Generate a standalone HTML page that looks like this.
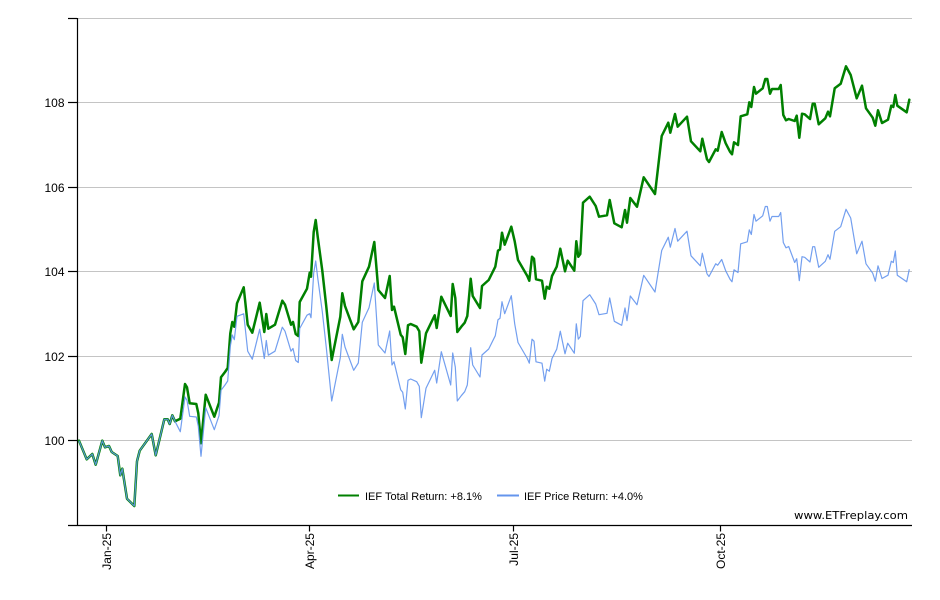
<!DOCTYPE html>
<html>
<head>
<meta charset="utf-8">
<style>
html,body{margin:0;padding:0;background:#fff;}
svg{display:block;}
text{font-family:"Liberation Sans",Arial,sans-serif;fill:#000;}
</style>
</head>
<body>
<svg width="940" height="600" viewBox="0 0 940 600" xmlns="http://www.w3.org/2000/svg">
<rect x="0" y="0" width="940" height="600" fill="#fff"/>
<!-- gridlines -->
<g stroke="#c4c4c4" stroke-width="1">
<line x1="77" y1="18.5" x2="912" y2="18.5"/>
<line x1="77" y1="102.5" x2="912" y2="102.5"/>
<line x1="77" y1="187.5" x2="912" y2="187.5"/>
<line x1="77" y1="271.5" x2="912" y2="271.5"/>
<line x1="77" y1="356.5" x2="912" y2="356.5"/>
<line x1="77" y1="440.5" x2="912" y2="440.5"/>
</g>
<!-- axes -->
<g stroke="#000" stroke-width="1.2">
<line x1="77.5" y1="18" x2="77.5" y2="525"/>
<line x1="68" y1="525.5" x2="912" y2="525.5"/>
<line x1="68" y1="18.5" x2="77" y2="18.5"/>
<line x1="68" y1="102.5" x2="77" y2="102.5"/>
<line x1="68" y1="187.5" x2="77" y2="187.5"/>
<line x1="68" y1="271.5" x2="77" y2="271.5"/>
<line x1="68" y1="356.5" x2="77" y2="356.5"/>
<line x1="68" y1="440.5" x2="77" y2="440.5"/>
<line x1="106.5" y1="525" x2="106.5" y2="531.5"/>
<line x1="309.5" y1="525" x2="309.5" y2="531.5"/>
<line x1="513.5" y1="525" x2="513.5" y2="531.5"/>
<line x1="720.5" y1="525" x2="720.5" y2="531.5"/>
</g>
<!-- y labels -->
<g font-size="12" text-anchor="end">
<text x="64.5" y="106.8">108</text>
<text x="64.5" y="191.8">106</text>
<text x="64.5" y="275.8">104</text>
<text x="64.5" y="360.8">102</text>
<text x="64.5" y="444.8">100</text>
</g>
<!-- x labels -->
<g font-size="12" text-anchor="end">
<text transform="translate(111,533) rotate(-90)">Jan-25</text>
<text transform="translate(314,533) rotate(-90)">Apr-25</text>
<text transform="translate(518,533) rotate(-90)">Jul-25</text>
<text transform="translate(725,533) rotate(-90)">Oct-25</text>
</g>
<!-- green total return -->
<polyline fill="none" stroke="#008000" stroke-width="2.5" stroke-linejoin="round" stroke-linecap="round" points="
79,440.7 86.7,459.3 92.3,454 95.7,464.7 102.3,440.7 105,447.3 109,446 111.7,452 117.7,456 120.3,475.3 122.3,468.7 127,498.7 134.3,506 137,461.3 139.7,450.7 151.7,434 155.7,455.3 164.3,419.3 167.7,419.3 169.7,424 172.3,415.3 175,421.3
180.3,418.7 185,384 187,387.3 189.7,403.3 196.3,404 198.3,413.3 201,443.3 205.7,394.7 214.3,416.7 219,402.7 221,377.3 225,372 227.7,368 230.3,333.3 232.3,322 234.3,326.7 237,303.3
243.7,287.3 247.7,324.7 252.3,332.7 259.7,302.7 264.3,332 266.3,314 268.3,328.7 275,324.7 282.3,300.7 285,304.7 291,324.7 293,322 295.7,334 298.3,336 299.7,302 307,288.7
309.7,272.7 311,276.7 313.7,232 315.7,220 317.7,236.7 322.3,270.7 326.3,306.7 331.7,360 340.3,316.7 342.3,293.3 345,306 353.7,329.3 358.3,322 362.3,281.3 369,266.7 374.3,242
378.3,290 385,298 389.7,276 392,310 394,306.7 400.7,334.7 402.7,337.3 405.3,354 408,325.3 410.7,324 416.7,326.7 419.3,331.3 421.3,362.7 426,333.3 434.7,315.3 436.7,328 441.3,296.7
450.7,316 452.7,284 455.3,298 457.3,332 461.3,326.7 464.7,322.7 467.3,316 470.7,278.7 472.7,296 480,308 482,286 488.7,280 495.3,266.7 498,250.7 500,249.3 502,232.7 504.7,244.7 511.3,226.7
514.7,241.3 518,260 527.3,276 529.3,280.7 532,256.7 534,258.7 536,279.3 542,280.7 544.7,298.7 546.7,286.7 549.3,288.7 552,276 556.7,266.7 560.3,248.7 565,271.3 567.7,260.7 574.3,270.7 576.3,241.3 578.3,256.7 580.3,254
583,202.7 589.7,196.7 595.7,206 599,216.7 607,215.3 609.7,200 614.3,223.3 621.7,227.3 625,210 627,222.7 630.3,198 637,206.7 643.7,177.3 655,194
661.7,136 668.3,122.7 670.3,132.7 675,114 677.7,126.7 687,116.7 691,141.3 700.3,151.3 702.3,138.7 707,159.3 709,162 715.7,149.3 717.7,150.7
721.7,132 725.7,143.3 730,151.7 732,154.3 734,142.3 738,145 740.7,116.3 747.3,114.3 749.3,102.3 751.3,107 754,87 756,93.7 762.7,88.3 765.3,79 767.3,79 770,93.7 772,89 778.7,89 780.7,85 783.3,115 786,120.3 788.7,119
794.7,121 796.7,115.7 799.3,137.7 802,113.7 804.7,114.3 810,119 812.7,103.7 814.7,103.7 818.7,124.3 825.3,118.3 828,111.7 830,116.3 834.7,88.3 840.7,83.7 846,66.3 850.7,75
856.7,98.3 862,85.7 866,108.3 872.7,117.7 875.3,125.7 878,110.3 882,123 888,119.7 891.3,105.7 893.3,107 895.3,95
897.3,105.7 906.7,112.3 909.3,99.7"/>
<!-- blue price return -->
<polyline fill="none" stroke="#6495ED" stroke-width="1.2" stroke-opacity="0.9" stroke-linejoin="round" points="
79,440.7 86.7,459.3 92.3,454 95.7,464.7 102.3,440.7 105,447.3 109,446 111.7,452 117.7,456 120.3,475.3 122.3,468.7 127,498.7 134.3,506 137,461.3 139.7,450.7 151.7,434 155.7,455.3 164.3,419.3 167.7,419.3 169.7,424 172.3,415.3 175,421.3
180.3,431.7 185,397 187,400.3 189.7,416.3 196.3,417 198.3,426.3 201,456.3 205.7,407.7 214.3,429.7 219,415.7 221,390.3 225,385 227.7,381 230.3,346.3 232.3,335 234.3,339.7 237,316.3
243.7,313.8 247.7,351.2 252.3,359.2 259.7,329.2 264.3,358.5 266.3,340.5 268.3,355.2 275,351.2 282.3,327.2 285,331.2 291,351.2 293,348.5 295.7,360.5 298.3,362.5 299.7,328.5 307,315.2
309.7,313.7 311,317.7 313.7,273 315.7,261 317.7,277.7 322.3,311.7 326.3,347.7 331.7,401 340.3,357.7 342.3,334.3 345,347 353.7,370.3 358.3,363 362.3,322.3 369,307.7 374.3,283
378.3,345 385,353 389.7,331 392,365 394,361.7 400.7,389.7 402.7,392.3 405.3,409 408,380.3 410.7,379 416.7,381.7 419.3,386.3 421.3,417.7 426,388.3 434.7,370.3 436.7,383 441.3,351.7
450.7,385 452.7,353 455.3,367 457.3,401 461.3,395.7 464.7,391.7 467.3,385 470.7,347.7 472.7,365 480,377 482,355 488.7,349 495.3,335.7 498,319.7 500,318.3 502,301.7 504.7,313.7 511.3,295.7
514.7,323.8 518,342.5 527.3,358.5 529.3,363.2 532,339.2 534,341.2 536,361.8 542,363.2 544.7,381.2 546.7,369.2 549.3,371.2 552,358.5 556.7,349.2 560.3,331.2 565,353.8 567.7,343.2 574.3,353.2 576.3,323.8 578.3,339.2 580.3,336.5
583,300.7 589.7,294.7 595.7,304 599,314.7 607,313.3 609.7,298 614.3,321.3 621.7,325.3 625,308 627,320.7 630.3,296 637,304.7 643.7,275.3 655,292
661.7,250.5 668.3,237.2 670.3,247.2 675,228.5 677.7,241.2 687,231.2 691,255.8 700.3,265.8 702.3,253.2 707,273.8 709,276.5 715.7,263.8 717.7,265.2
721.7,259.5 725.7,270.8 730,279.2 732,281.8 734,269.8 738,272.5 740.7,243.8 747.3,241.8 749.3,229.8 751.3,234.5 754,214.5 756,221.2 762.7,215.8 765.3,206.5 767.3,206.5 770,221.2 772,216.5 778.7,216.5 780.7,212.5 783.3,242.5 786,247.8 788.7,246.5
794.7,262.5 796.7,258.7 799.3,280.7 802,256.7 804.7,257.3 810,262 812.7,246.7 814.7,246.7 818.7,267.3 825.3,261.3 828,254.7 830,259.3 834.7,231.3 840.7,226.7 846,209.3 850.7,218
856.7,253.8 862,241.2 866,263.8 872.7,273.2 875.3,281.2 878,265.8 882,278.5 888,275.2 891.3,261.2 893.3,262.5 895.3,251
897.3,275.2 906.7,281.8 909.3,269.2"/>
<!-- legend -->
<line x1="338" y1="495.5" x2="359" y2="495.5" stroke="#008000" stroke-width="2"/>
<text x="365" y="499.8" font-size="11">IEF Total Return: +8.1%</text>
<line x1="497" y1="495.5" x2="519" y2="495.5" stroke="#6495ED" stroke-width="2"/>
<text x="524" y="499.8" font-size="11">IEF Price Return: +4.0%</text>
<!-- watermark -->
<text x="794" y="519" font-size="11" textLength="114" lengthAdjust="spacingAndGlyphs" style="font-family:'DejaVu Sans',Verdana,sans-serif;">www.ETFreplay.com</text>
</svg>
</body>
</html>
